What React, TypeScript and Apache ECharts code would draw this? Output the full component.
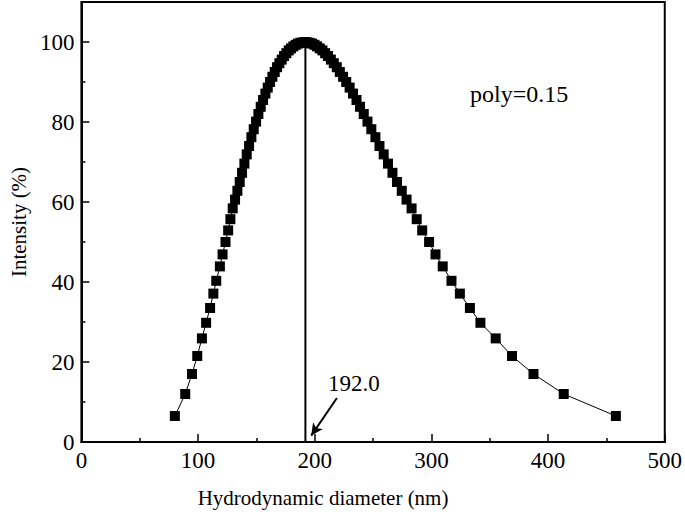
import React, { useEffect, useRef } from "react";
import * as echarts from "echarts";

// Hydrodynamic diameter (nm) of each measured point
const diameters: number[] = [
  80.1, 89, 94.8, 99.3, 103.3, 106.9, 110.3, 113.1, 115.6, 118.7, 121, 123.5, 125.8, 127.7, 129.7,
  131.7, 133.7, 135.7, 137.7, 139.7, 141.7, 143.7, 145.7, 147.7, 149.7, 151.7, 153.7, 155.7, 157.7,
  159.7, 161.7, 163.7, 165.7, 167.7, 169.7, 171.7, 173.7, 175.7, 177.7, 179.7, 181.7, 183.7, 185.7,
  187.7, 189.7, 191.7,
  193.5, 195.6, 197.7, 199.8, 202.0, 204.3, 206.6, 208.9, 211.3, 213.8, 216.3, 218.9, 221.5, 224.3,
  227.0, 229.9, 232.8, 235.8, 238.8, 242.0, 245.2, 248.5, 252.0, 255.5, 259.1, 262.8, 266.6, 270.5,
  274.6, 278.7,
  283.0, 287.4, 292.1, 298, 303.5, 309.7, 317.2, 324.4, 333, 342, 355.1, 369.1, 387.5, 413.4, 458.1,
];

// Intensity (%) of each measured point
const intensities: number[] = [
  6.5, 12, 17, 21.5, 25.9, 29.8, 33.5, 37.1, 40.3, 43.9, 46.9, 50, 52.9, 55.7, 58.4,
  60.6, 62.8, 65.0, 67.3, 69.6, 71.9, 74.0, 76.2, 78.2, 80.1, 82.0, 83.8, 85.5, 87.1,
  88.6, 90.0, 91.3, 92.5, 93.7, 94.7, 95.6, 96.5, 97.2, 97.9, 98.4, 98.9, 99.3, 99.6,
  99.8, 99.9, 100,
  99.9, 99.8, 99.6, 99.3, 98.9, 98.4, 97.9, 97.2, 96.5, 95.6, 94.7, 93.7, 92.5, 91.3,
  90.0, 88.6, 87.1, 85.5, 83.8, 82.0, 80.1, 78.2, 76.2, 74.0, 71.9, 69.6, 67.3, 65.0,
  62.8, 60.6,
  58.4, 55.7, 52.9, 50, 46.9, 43.9, 40.3, 37.1, 33.5, 29.8, 25.9, 21.5, 17, 12, 6.5,
];

// Peak marker
const peakDiameter = 192.0;
const peakLine: [number, number][] = [
  [192, 0],
  [192, 100],
];
const arrowFrom: [number, number] = [219, 11];
const arrowTo: [number, number] = [197, 1.6];

const xTicks = { min: 0, max: 500, interval: 100 };
const yTicks = { min: 0, max: 110, interval: 20 };

const FONT = "Liberation Serif";

export default function App() {
  const ref = useRef<HTMLDivElement>(null);

  useEffect(() => {
    if (!ref.current) return;
    const chart = echarts.init(ref.current, null, { renderer: "svg" });
    const points = diameters.map((d, i) => [d, intensities[i]]);

    const axisCommon = {
      axisLine: { show: true, onZero: false, lineStyle: { color: "#000", width: 2 } },
      axisTick: { show: true, inside: true, length: 8, lineStyle: { color: "#000", width: 1.5 } },
      minorTick: { show: true, splitNumber: 2, length: 4, lineStyle: { color: "#000", width: 1.5 } },
      splitLine: { show: false },
      minorSplitLine: { show: false },
      axisLabel: { color: "#000", fontFamily: FONT, fontSize: 23, margin: 7 },
      nameTextStyle: { color: "#000", fontFamily: FONT, fontSize: 21 },
    };

    chart.setOption({
      animation: false,
      backgroundColor: "#fff",
      grid: {
        left: 77,
        right: 17,
        top: 2,
        bottom: 72,
        show: true,
        borderColor: "#000",
        borderWidth: 2,
        backgroundColor: "transparent",
      },
      xAxis: {
        type: "value",
        ...xTicks,
        ...axisCommon,
        name: "Hydrodynamic diameter (nm)",
        nameLocation: "middle",
        nameGap: 45,
        nameTextStyle: { ...axisCommon.nameTextStyle, padding: [0, 100, 0, 0] },
      },
      yAxis: {
        type: "value",
        ...yTicks,
        ...axisCommon,
        axisLabel: {
          ...axisCommon.axisLabel,
          formatter: (v: number) => (v > 100 ? "" : String(v)),
        },
        name: "Intensity (%)",
        nameLocation: "middle",
        nameGap: 50,
      },
      series: [
        {
          type: "line",
          data: points,
          symbol: "rect",
          symbolSize: 10,
          showAllSymbol: true,
          lineStyle: { color: "#000", width: 1 },
          itemStyle: { color: "#000" },
          z: 3,
        },
        {
          type: "line",
          data: peakLine,
          symbol: "none",
          lineStyle: { color: "#000", width: 2 },
          z: 2,
          markLine: {
            silent: true,
            symbol: ["none", "arrow"],
            symbolSize: [9, 12],
            lineStyle: { color: "#000", width: 2, type: "solid" },
            label: { show: false },
            data: [[{ coord: arrowFrom }, { coord: arrowTo }]],
          },
        },
      ],
      graphic: [
        {
          type: "text",
          left: 470,
          top: 82,
          style: { text: "poly=0.15", fontFamily: FONT, fontSize: 24, fill: "#000" },
        },
        {
          type: "text",
          left: 328,
          top: 372,
          style: { text: peakDiameter.toFixed(1), fontFamily: FONT, fontSize: 23, fill: "#000" },
        },
      ],
    });

    return () => chart.dispose();
  }, []);

  return (
    <div
      ref={ref}
      style={{ position: "fixed", left: 0, top: 0, width: 685, height: 514, background: "#fff" }}
    />
  );
}
